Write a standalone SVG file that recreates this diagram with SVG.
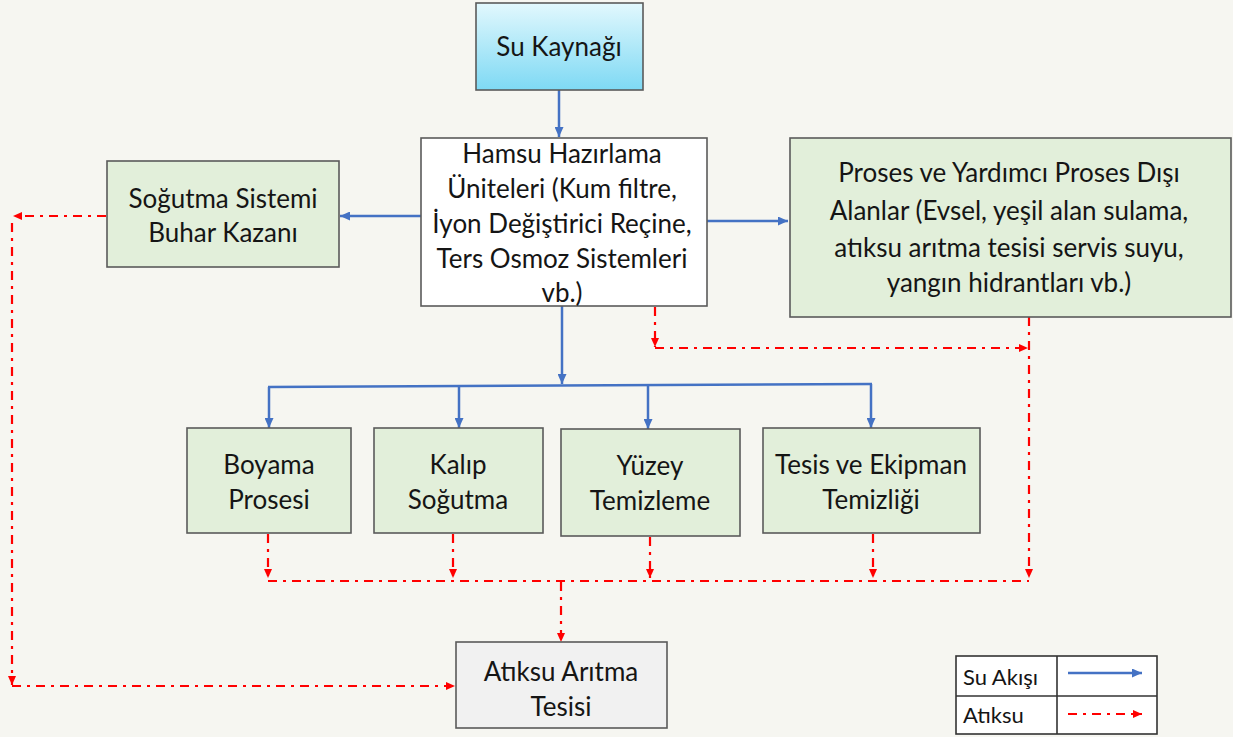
<svg xmlns="http://www.w3.org/2000/svg" width="1233" height="737" viewBox="0 0 1233 737">
<defs>
<linearGradient id="gCyan" x1="0" y1="0" x2="0" y2="1">
<stop offset="0" stop-color="#e2f8fd"/>
<stop offset="1" stop-color="#7ed9f4"/>
</linearGradient>
<marker id="aBlue" markerUnits="userSpaceOnUse" markerWidth="10" markerHeight="9" refX="10" refY="4.5" orient="auto">
<path d="M0,0 L10,4.5 L0,9 z" fill="#4472c4"/>
</marker>
<marker id="aRed" markerUnits="userSpaceOnUse" markerWidth="9" markerHeight="8" refX="9" refY="4" orient="auto">
<path d="M0,0 L9,4 L0,8 z" fill="#ff0000"/>
</marker>
</defs>
<style>
.box{stroke:#5a5a5a;stroke-width:1.6}
.green{fill:#e2efda}
.t{font-family:Lato,"Open Sans","Liberation Sans",sans-serif;font-size:26px;fill:#151515;text-anchor:middle}
.lg{font-family:Lato,"Open Sans","Liberation Sans",sans-serif;font-size:22px;fill:#151515}
.b{fill:none;stroke:#4472c4;stroke-width:2.5}
.ba{fill:none;stroke:#4472c4;stroke-width:2.5;marker-end:url(#aBlue)}
.r{fill:none;stroke:#ff0000;stroke-width:2.2;stroke-dasharray:9 6 3 6}
.ra{fill:none;stroke:#ff0000;stroke-width:2.2;stroke-dasharray:9 6 3 6;marker-end:url(#aRed)}
</style>
<rect width="1233" height="737" fill="#f6f6f1"/>

<g id="connectors">
<line class="ba" x1="559" y1="90" x2="559" y2="137"/>
<line class="ba" x1="421" y1="216" x2="340" y2="216"/>
<line class="ba" x1="707" y1="221" x2="788" y2="221"/>
<line class="ba" x1="562" y1="306" x2="562" y2="384"/>
<line class="b" x1="268" y1="387" x2="872" y2="384"/>
<line class="ba" x1="269" y1="387" x2="269" y2="428"/>
<line class="ba" x1="459" y1="386" x2="459" y2="428"/>
<line class="ba" x1="648" y1="385" x2="648" y2="429"/>
<line class="ba" x1="871" y1="384" x2="871" y2="428"/>

<line class="ra" x1="106" y1="216" x2="13" y2="216"/>
<line class="ra" x1="12" y1="223" x2="12" y2="685"/>
<line class="ra" x1="12" y1="686" x2="455" y2="686"/>
<line class="ra" x1="655" y1="307" x2="655" y2="347"/>
<line class="ra" x1="655" y1="348" x2="1028" y2="348"/>
<line class="ra" x1="1029" y1="317" x2="1029" y2="578"/>
<line class="ra" x1="268" y1="534" x2="268" y2="578"/>
<line class="ra" x1="453" y1="534" x2="453" y2="578"/>
<line class="ra" x1="650" y1="537" x2="650" y2="578"/>
<line class="ra" x1="873" y1="534" x2="873" y2="578"/>
<line class="r" x1="268" y1="581" x2="1029" y2="581"/>
<line class="ra" x1="561" y1="582" x2="561" y2="642"/>
</g>

<g id="su-kaynagi">
<rect class="box" x="476" y="3" width="167" height="87" fill="url(#gCyan)"/>
<text class="t" x="559" y="56">Su Kaynağı</text>
</g>

<g id="hamsu">
<rect class="box" x="421" y="138" width="286" height="168" fill="#ffffff"/>
<text class="t" x="562" y="163">Hamsu Hazırlama</text>
<text class="t" x="562" y="198">Üniteleri (Kum filtre,</text>
<text class="t" x="562" y="233">İyon Değiştirici Reçine,</text>
<text class="t" x="562" y="268">Ters Osmoz Sistemleri</text>
<text class="t" x="562" y="302">vb.)</text>
</g>

<g id="sogutma">
<rect class="box green" x="107" y="161" width="232" height="106"/>
<text class="t" x="223" y="208">Soğutma Sistemi</text>
<text class="t" x="223" y="242">Buhar Kazanı</text>
</g>

<g id="proses-disi">
<rect class="box green" x="790" y="138" width="441" height="179"/>
<text class="t" x="1009" y="182">Proses ve Yardımcı Proses Dışı</text>
<text class="t" x="1009" y="220">Alanlar (Evsel, yeşil alan sulama,</text>
<text class="t" x="1009" y="257">atıksu arıtma tesisi servis suyu,</text>
<text class="t" x="1009" y="292">yangın hidrantları vb.)</text>
</g>

<g id="boyama">
<rect class="box green" x="187" y="428" width="164" height="105"/>
<text class="t" x="269" y="474">Boyama</text>
<text class="t" x="269" y="509">Prosesi</text>
</g>

<g id="kalip">
<rect class="box green" x="374" y="428" width="169" height="105"/>
<text class="t" x="458" y="474">Kalıp</text>
<text class="t" x="458" y="509">Soğutma</text>
</g>

<g id="yuzey">
<rect class="box green" x="561" y="429" width="179" height="107"/>
<text class="t" x="650" y="475">Yüzey</text>
<text class="t" x="650" y="510">Temizleme</text>
</g>

<g id="tesis-ekipman">
<rect class="box green" x="763" y="428" width="217" height="105"/>
<text class="t" x="871" y="474">Tesis ve Ekipman</text>
<text class="t" x="871" y="509">Temizliği</text>
</g>

<g id="atiksu-aritma">
<rect class="box" x="456" y="642" width="211" height="86" fill="#f1f1f1"/>
<text class="t" x="561" y="681">Atıksu Arıtma</text>
<text class="t" x="561" y="716">Tesisi</text>
</g>

<g id="legend">
<rect x="956" y="656" width="201" height="78" fill="#ffffff" stroke="#333" stroke-width="1.6"/>
<line x1="956" y1="696" x2="1157" y2="696" stroke="#333" stroke-width="1.6"/>
<line x1="1057" y1="656" x2="1057" y2="734" stroke="#333" stroke-width="1.6"/>
<text class="lg" x="963" y="685">Su Akışı</text>
<text class="lg" x="963" y="723">Atıksu</text>
<line class="ba" x1="1068" y1="673" x2="1142" y2="673"/>
<line class="ra" x1="1068" y1="714" x2="1142" y2="714"/>
</g>
</svg>
